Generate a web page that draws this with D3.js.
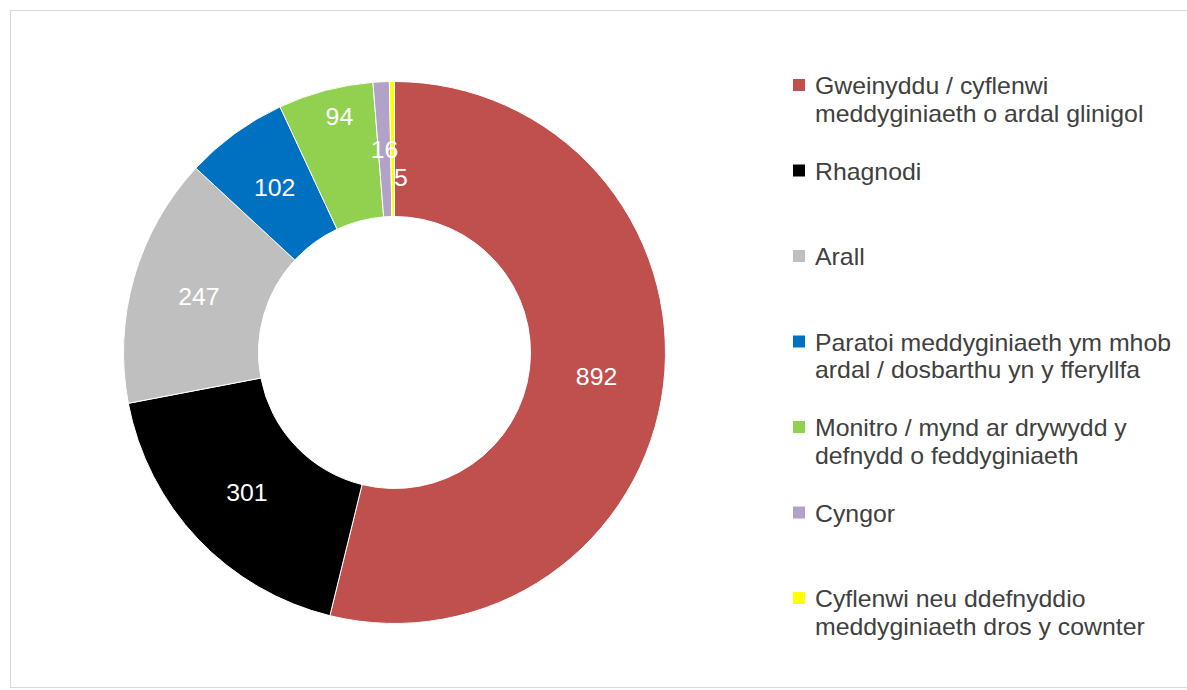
<!DOCTYPE html>
<html>
<head>
<meta charset="utf-8">
<script src="https://cdn.jsdelivr.net/npm/d3@7"></script>
<style>
  html, body { margin: 0; padding: 0; background: #ffffff; }
  svg { display: block; font-family: "Liberation Sans", Arial, sans-serif; }
</style>
</head>
<body>
<svg id="chart" width="1187" height="690"></svg>
<script>
// Categories of medication-related incidents, with legend lines broken as displayed
const categories = [
  "Gweinyddu / cyflenwi meddyginiaeth o ardal glinigol",
  "Rhagnodi",
  "Arall",
  "Paratoi meddyginiaeth ym mhob ardal / dosbarthu yn y fferyllfa",
  "Monitro / mynd ar drywydd y defnydd o feddyginiaeth",
  "Cyngor",
  "Cyflenwi neu ddefnyddio meddyginiaeth dros y cownter"
];
const legendLines = [
  ["Gweinyddu / cyflenwi", "meddyginiaeth o ardal glinigol"],
  ["Rhagnodi"],
  ["Arall"],
  ["Paratoi meddyginiaeth ym mhob", "ardal / dosbarthu yn y fferyllfa"],
  ["Monitro / mynd ar drywydd y", "defnydd o feddyginiaeth"],
  ["Cyngor"],
  ["Cyflenwi neu ddefnyddio", "meddyginiaeth dros y cownter"]
];
const values = [892, 301, 247, 102, 94, 16, 5];
const colors = ["#c0504d", "#000000", "#bfbfbf", "#0070c0", "#92d050", "#b3a2c7", "#ffff00"];

const svg = d3.select("#chart");

// Outer frame
svg.append("rect")
  .attr("x", 10.5).attr("y", 10.5)
  .attr("width", 1190).attr("height", 677)
  .attr("fill", "#ffffff")
  .attr("stroke", "#d9d9d9").attr("stroke-width", 1);

const cx = 394.5, cy = 352.5;
const outerR = 271, innerR = 136;

const color = d3.scaleOrdinal().domain(categories).range(colors);

const pie = d3.pie().sort(null).value(d => d.value);
const data = categories.map((c, i) => ({ category: c, value: values[i] }));
const arcs = pie(data);

const arc = d3.arc().innerRadius(innerR).outerRadius(outerR);

const g = svg.append("g").attr("transform", `translate(${cx},${cy})`);

g.selectAll("path.slice")
  .data(arcs)
  .join("path")
  .attr("class", "slice")
  .attr("d", arc)
  .attr("fill", d => color(d.data.category))
  .attr("stroke", "#ffffff")
  .attr("stroke-width", 1);

// Value labels sit at the middle of each ring segment. Around the narrow
// slices at the top the labels crowd together, so the neighbour before the
// narrow slice moves outwards and the last one moves inwards.
const labelArc = d3.arc().innerRadius(innerR).outerRadius(outerR);
const midR = (innerR + outerR) / 2;
const narrow = d => (d.endAngle - d.startAngle) < 0.08;
arcs.forEach((d, i) => {
  const mid = (d.startAngle + d.endAngle) / 2;
  let r = midR, dx = 0;
  const next = arcs[i + 1], prev = arcs[i - 1];
  if (!narrow(d) && next && narrow(next)) { r = midR + 40; dx = 7; }
  else if (narrow(d) && prev && narrow(prev)) { r = midR - 29; dx = 8; }
  d.lx = r * Math.sin(mid) + dx;
  d.ly = -r * Math.cos(mid);
});

g.selectAll("text.val")
  .data(arcs)
  .join("text")
  .attr("class", "val")
  .attr("transform", d => `translate(${d.lx},${d.ly}) scale(1.08,1)`)
  .attr("text-anchor", "middle")
  .attr("dy", "0.36em")
  .attr("fill", "#ffffff")
  .attr("font-size", 23)
  .text(d => d.data.value);

// Legend
const legendX = 793, legendTextX = 815;
const legendY = d3.scalePoint().domain(categories).range([94, 607]);

const lg = svg.append("g");
const items = lg.selectAll("g.item")
  .data(categories)
  .join("g")
  .attr("class", "item");

items.append("rect")
  .attr("x", legendX)
  .attr("y", d => legendY(d) - 15)
  .attr("width", 12).attr("height", 12)
  .attr("fill", d => color(d));

items.each(function (d, i) {
  const t = d3.select(this).append("text")
    .attr("transform", `translate(${legendTextX},${legendY(d)}) scale(1.08,1)`)
    .attr("fill", "#404040")
    .attr("font-size", 23);
  legendLines[i].forEach((line, k) => {
    t.append("tspan")
      .attr("x", 0)
      .attr("y", k * 28)
      .text(line);
  });
});
</script>
</body>
</html>
